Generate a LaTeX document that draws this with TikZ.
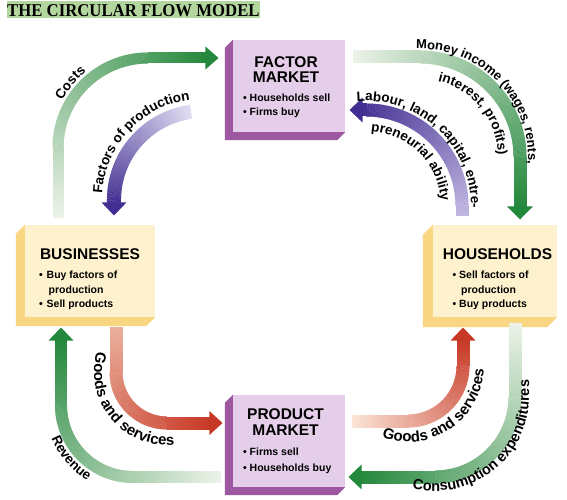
\documentclass[tikz,border=0pt]{standalone}
\usepackage{fontspec}
\setmainfont{Liberation Sans}
\newfontfamily\titleserif{Liberation Serif}
\usetikzlibrary{decorations.markings,decorations.text,backgrounds}
\definecolor{titlegreen}{RGB}{178,214,158}
\definecolor{pfront}{RGB}{229,206,233}
\definecolor{pside}{RGB}{158,88,162}
\definecolor{yfront}{RGB}{254,242,206}
\definecolor{yside}{RGB}{248,214,130}
\definecolor{ghead}{RGB}{36,136,60}
\definecolor{gtail}{RGB}{236,242,232}
\definecolor{phead}{RGB}{66,46,146}
\definecolor{ptail}{RGB}{224,220,242}
\definecolor{ptailb}{RGB}{192,182,226}
\definecolor{rhead}{RGB}{200,56,38}
\definecolor{rtail}{RGB}{250,228,214}
\definecolor{rtailb}{RGB}{234,176,156}
\newcommand\labfontA{\fontsize{13pt}{15pt}\selectfont\bfseries}
\newcommand\labfontB{\fontsize{13.5pt}{15pt}\selectfont\bfseries}
\newcommand\labfontC{\fontsize{14pt}{16pt}\selectfont\bfseries}
\newcommand\labfontD{\fontsize{14.5pt}{16pt}\selectfont\bfseries}
\newcommand\labfontE{\fontsize{15pt}{17pt}\selectfont\bfseries}
\newcommand\boxtitlefont{\fontsize{15.5pt}{17pt}\selectfont\bfseries}
\newcommand\boxbulletfont{\fontsize{10.5pt}{12pt}\selectfont\bfseries}
\newcommand\extrudebox[3]{\fill[#3] (#1.north west) -- ++(-#2,-#2) |- ([shift={(-#2,-#2)}]#1.south east) -- (#1.south east) -- cycle;}
% arrow head at a named coordinate: coordinate, direction, colour, half width
\newcommand\headat[4]{\begin{scope}[shift={(#1)},rotate=#2]\fill[#3] (-0.6,-#4) -- (12.5,0) -- (-0.6,#4) -- cycle;\end{scope}}
\tikzset{
  flow/.style n args={3}{
    decoration={markings,
      mark=between positions 0 and 1 step 0.7pt with {%
        \pgfmathsetmacro\flowfrac{\pgfkeysvalueof{/pgf/decoration/mark info/distance from start}/\pgfdecoratedpathlength}%
        \pgfmathtruncatemacro\flowpct{min(100,max(0,\flowfrac*100))}%
        \fill[#2!\flowpct!#1] (-0.5pt,-#3) rectangle (0.5pt,#3);}},
    decorate},
  lbl/.style n args={2}{decorate, decoration={text along path, text={|#1|#2}}},
  lblc/.style n args={2}{decorate, decoration={text along path, text align=center, text={|#1|#2}}},
  box/.style={inner sep=0pt, minimum height=92pt},
  pbox/.style={box, fill=pfront, minimum width=112pt},
  ybox/.style={box, fill=yfront},
  ttl/.style={anchor=base, inner sep=0pt, font=\boxtitlefont},
  bl/.style={anchor=base west, inner sep=0pt, font=\boxbulletfont}
}
\begin{document}
\begin{tikzpicture}[x=1pt,y=1pt]
\useasboundingbox (0,0) rectangle (567,499);
\begin{scope}[on background layer]
  \fill[white] (0,0) rectangle (567,499);
\end{scope}

% title
\node[font=\titleserif\fontsize{18pt}{20pt}\selectfont\bfseries, fill=titlegreen, anchor=base west,
      inner xsep=0.5pt, inner ysep=0pt, text height=15pt, text depth=1.5pt, xscale=0.93]
      (title) at (6.5,482.5) {THE CIRCULAR FLOW MODEL};

% boxes
\node[pbox] (factor) at (289,413) {};
\node[ybox, minimum width=130pt] (bus) at (90,228) {};
\node[ybox, minimum width=124pt] (hh) at (495,228) {};
\node[pbox] (product) at (289,58) {};
\begin{scope}[on background layer]
  \extrudebox{factor}{8}{pside}
  \extrudebox{product}{8}{pside}
  \extrudebox{bus}{9}{yside}
  \extrudebox{hh}{10}{yside}
\end{scope}

% box texts
\node[ttl] (factorT1) at (286,431) {FACTOR};
\node[ttl] (factorT2) at (286,416) {MARKET};
\node[bl] (factorD1) at (243,397) {•};
\node[bl] (factorB1) at (249.5,397) {Households sell};
\node[bl] (factorD2) at (243,383) {•};
\node[bl] (factorB2) at (249.5,383) {Firms buy};

\node[ttl] (busT) at (90,240) {BUSINESSES};
\node[bl] (busD1) at (39,221) {•};
\node[bl] (busB1) at (46.5,221) {Buy factors of};
\node[bl] (busB1b) at (48.5,206) {production};
\node[bl] (busD2) at (39,192) {•};
\node[bl] (busB2) at (46.5,192) {Sell products};

\node[ttl] (hhT) at (497.5,240) {HOUSEHOLDS};
\node[bl] (hhD1) at (452.5,221) {•};
\node[bl] (hhB1) at (459,221) {Sell factors of};
\node[bl] (hhB1b) at (461,206) {production};
\node[bl] (hhD2) at (452.5,192) {•};
\node[bl] (hhB2) at (459,192) {Buy products};

\node[ttl] (prodT1) at (285.5,80) {PRODUCT};
\node[ttl] (prodT2) at (285.5,64) {MARKET};
\node[bl] (prodD1) at (243,44) {•};
\node[bl] (prodB1) at (249.5,44) {Firms sell};
\node[bl] (prodD2) at (243,28) {•};
\node[bl] (prodB2) at (249.5,28) {Households buy};

% flow arrows
\coordinate (costsS) at (58,282);   \coordinate (costsE) at (206,441);
\coordinate (factS)  at (190.6,387.1); \coordinate (factE) at (114,296);
\coordinate (monS)   at (353,442);  \coordinate (monE)   at (520,292);
\coordinate (labS)   at (462,284);  \coordinate (labE)   at (362,389);
\coordinate (glS)    at (116,172);  \coordinate (glE)    at (210,76);
\coordinate (revS)   at (220,22);   \coordinate (revE)   at (61,159);
\coordinate (grS)    at (352,78);   \coordinate (grE)    at (463,159);
\coordinate (conS)   at (515,176);  \coordinate (conE)   at (361,22);

\path[flow={gtail}{ghead}{5.5pt}] (costsS) -- (58,351) arc[start angle=180,end angle=90,radius=90] -- (costsE);
\headat{costsE}{0}{ghead}{11.5}
\path[flow={ptail}{phead}{7pt}] (factS) arc[start angle=98,end angle=180,radius=89] -- (factE);
\headat{factE}{-90}{phead}{12.5}
\path[flow={gtail}{ghead}{6.5pt}] (monS) -- (420,442) arc[start angle=90,end angle=0,radius=100] -- (monE);
\headat{monE}{-90}{ghead}{13}
\path[flow={ptailb}{phead}{6.5pt}] (labS) -- (462,293) arc[start angle=0,end angle=90,radius=96] -- (labE);
\headat{labE}{180}{phead}{12.5}
\path[flow={rtailb}{rhead}{6.5pt}] (glS) -- (116,127) arc[start angle=180,end angle=270,radius=51] -- (glE);
\headat{glE}{0}{rhead}{12}
\path[flow={gtail}{ghead}{6pt}] (revS) -- (133,22) arc[start angle=270,end angle=180,radius=72] -- (revE);
\headat{revE}{90}{ghead}{12.5}
\path[flow={rtail}{rhead}{6.5pt}] (grS) -- (408,78) arc[start angle=270,end angle=360,radius=55] -- (grE);
\headat{grE}{90}{rhead}{12.5}
\path[flow={gtail}{ghead}{6.5pt}] (conS) -- (515,102) arc[start angle=0,end angle=-90,radius=80] -- (conE);
\headat{conE}{180}{ghead}{12.5}

% labels along arrows
\path[lblc={\labfontB}{Costs}] (50,351) arc[start angle=180,end angle=100,radius=98];
\path[lblc={\labfontB}{Factors of production}] (102.06,295.48) arc[start angle=182,end angle=92,radius=101];
\path[lbl={\labfontA}{Money income (wages, rents,}] (416,450) -- (420,450) arc[start angle=90,end angle=0,radius=108] -- (528,280);
\path[lblc={\labfontB}{interest, profits)}] (420,420) arc[start angle=90,end angle=-12,radius=78];
\path[lbl={\labfontB}{Labour, land, capital, entre-}] (356.8,397.6) arc[start angle=95,end angle=0,radius=105] -- (471,250);
\path[lblc={\labfontB}{preneurial ability}] (363.4,367.95) arc[start angle=92,end angle=-2,radius=75];
\path[lbl={\labfontE}{Goods and services}] (96.8,147.1) arc[start angle=164,end angle=292,radius=73];
\path[lblc={\labfontB}{Revenue}] (45.27,100.9) arc[start angle=175.5,end angle=265.5,radius=88];
\path[lbl={\labfontE}{Goods and services}] (382,61.6) arc[start angle=250,end angle=360,radius=76] -- (484,190);
\path[lbl={\labfontD}{Consumption expenditures}] (412.26,10.79) arc[start angle=256,end angle=360,radius=94] -- (529,160);
\end{tikzpicture}
\end{document}
